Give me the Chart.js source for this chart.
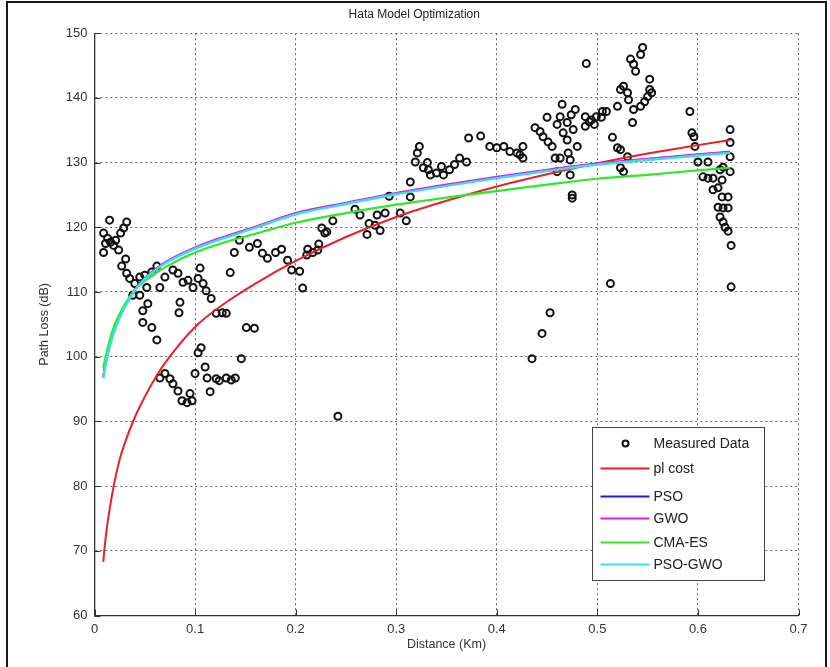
<!DOCTYPE html>
<html>
<head>
<meta charset="utf-8">
<title>Hata Model Optimization</title>
<script src="https://cdn.jsdelivr.net/npm/chart.js@4.4.1/dist/chart.umd.min.js"></script>
<style>
  body { margin: 0; background: #fff; }
  #wrap { position: relative; width: 830px; height: 667px; overflow: hidden; background: #fff; }
  #frame { position: absolute; left: 6px; top: 1px; width: 817px; height: 700px; border: 2px solid #1a1a1a; border-bottom: none; pointer-events: none; }
</style>
</head>
<body>
<div id="wrap">
  <canvas id="myChart" width="830" height="667"></canvas>
  <div id="frame"></div>
</div>
<script>
//measured drive test points, distance in km
const measuredDist = [
  0.015, 0.032, 0.009, 0.013, 0.016, 0.011, 0.019, 0.021, 0.026, 0.029,
  0.009, 0.024, 0.031, 0.027, 0.032, 0.035, 0.040, 0.045, 0.050, 0.057,
  0.062, 0.038, 0.045, 0.052, 0.065, 0.070, 0.078, 0.083, 0.048, 0.053,
  0.048, 0.057, 0.062, 0.085, 0.084, 0.088, 0.093, 0.098, 0.103, 0.105,
  0.108, 0.111, 0.116, 0.121, 0.127, 0.131, 0.135, 0.139, 0.144, 0.154,
  0.162, 0.167, 0.172, 0.180, 0.151, 0.159, 0.146, 0.103, 0.106, 0.110,
  0.100, 0.112, 0.115, 0.121, 0.124, 0.131, 0.136, 0.140, 0.065, 0.070,
  0.075, 0.078, 0.083, 0.087, 0.092, 0.095, 0.097,
  0.186, 0.192, 0.196, 0.204, 0.207, 0.211, 0.212, 0.217, 0.222, 0.223,
  0.226, 0.229, 0.231, 0.237, 0.242, 0.259, 0.264, 0.271, 0.273, 0.279,
  0.284, 0.281, 0.289, 0.304, 0.310, 0.314, 0.314, 0.293,
  0.319, 0.321, 0.323, 0.331, 0.327, 0.332, 0.334, 0.340, 0.345, 0.347,
  0.353, 0.358, 0.363, 0.370, 0.372, 0.384, 0.393, 0.400, 0.407, 0.413,
  0.420, 0.423, 0.426, 0.426, 0.438, 0.443, 0.446, 0.450, 0.451, 0.455,
  0.458, 0.460, 0.463, 0.465, 0.466, 0.470, 0.470, 0.471, 0.473, 0.474,
  0.476, 0.478, 0.480, 0.463, 0.460, 0.473, 0.475, 0.475, 0.488, 0.488,
  0.494, 0.499, 0.504, 0.505, 0.509, 0.489, 0.492, 0.497, 0.515, 0.520,
  0.523, 0.530, 0.523, 0.526, 0.520, 0.523, 0.526, 0.530, 0.531, 0.535,
  0.536, 0.533, 0.536, 0.538, 0.543, 0.545, 0.543, 0.547, 0.550, 0.552,
  0.552, 0.554, 0.513, 0.453, 0.445, 0.435,
  0.592, 0.594, 0.596, 0.597, 0.632, 0.632, 0.632, 0.600, 0.610, 0.605,
  0.610, 0.615, 0.622, 0.625, 0.632, 0.624, 0.615, 0.620, 0.624, 0.630,
  0.620, 0.625, 0.630, 0.622, 0.625, 0.627, 0.630, 0.633, 0.633
];

//measured path loss in dB, same order as measuredDist
const measuredLoss = [
  121.1, 120.8, 119.1, 118.3, 117.7, 117.5, 117.2, 118.0, 119.1, 119.9,
  116.1, 116.5, 115.1, 114.0, 112.9, 112.1, 111.3, 112.3, 112.6, 113.1,
  114.0, 109.5, 109.5, 110.7, 110.7, 112.3, 113.4, 112.9, 107.1, 108.2,
  105.3, 104.5, 102.6, 108.4, 106.8, 111.5, 111.8, 110.7, 112.1, 113.7,
  111.3, 110.2, 109.0, 106.7, 106.8, 106.7, 113.0, 116.1, 118.0, 116.9,
  117.5, 116.0, 115.2, 116.1, 104.5, 104.4, 99.7, 100.6, 101.4, 98.4,
  97.4, 96.7, 94.6, 96.6, 96.3, 96.7, 96.4, 96.7, 96.7, 97.4,
  96.6, 95.8, 94.7, 93.2, 92.9, 94.3, 93.2,
  116.6, 114.9, 113.4, 113.2, 110.6, 115.7, 116.6, 116.1, 116.5, 117.4,
  119.9, 119.1, 119.3, 121.0, 90.8, 122.8, 121.9, 118.9, 120.6, 120.3,
  119.5, 121.9, 122.2, 122.2, 121.0, 127.0, 124.7, 124.8,
  130.1, 131.5, 132.5, 130.0, 129.2, 128.9, 128.1, 128.4, 129.4, 128.1,
  128.9, 129.7, 130.7, 130.1, 133.8, 134.1, 132.5, 132.3, 132.5, 131.7,
  131.5, 131.2, 132.5, 130.7, 135.4, 134.8, 134.0, 137.0, 133.2, 132.5,
  130.7, 135.9, 137.1, 139.0, 134.6, 136.2, 133.5, 131.5, 130.4, 137.4,
  135.1, 138.2, 132.5, 130.7, 128.6, 128.1, 125.0, 124.5, 137.1, 135.6,
  136.6, 137.1, 137.0, 137.9, 137.9, 145.3, 136.3, 135.9, 133.9, 132.3,
  132.0, 130.9, 129.2, 128.6, 138.7, 141.3, 141.8, 140.8, 139.7, 136.2,
  138.2, 146.0, 145.2, 144.1, 146.7, 147.8, 138.7, 139.4, 140.2, 141.3,
  142.9, 140.8, 111.3, 106.8, 103.6, 99.7,
  137.9, 134.6, 134.0, 132.5, 135.1, 133.1, 130.9, 130.1, 130.1, 127.8,
  127.6, 127.6, 128.9, 129.3, 128.6, 127.3, 125.8, 126.1, 124.7, 124.7,
  123.1, 123.0, 123.0, 121.6, 120.8, 120.0, 119.4, 117.2, 110.8
];

//distances where the model curves were read
const curveDist = [0.0087, 0.01, 0.012, 0.015, 0.02, 0.025, 0.03, 0.04, 0.05, 0.06, 0.07, 0.1, 0.13, 0.16, 0.2, 0.25, 0.3, 0.35, 0.4, 0.45, 0.5, 0.55, 0.6, 0.632];

//model curves in dB
const plCost = [68.3, 70.4, 73.2, 76.4, 80.7, 84.1, 86.6, 90.6, 93.8, 96.6, 99.0, 104.6, 108.3, 111.3, 114.8, 118.5, 121.6, 124.1, 126.3, 128.2, 129.9, 131.4, 132.7, 133.5];
const pso    = [96.8, 98.1, 99.6, 101.6, 104.2, 106.1, 107.7, 110.3, 112.1, 113.4, 114.5, 116.8, 118.5, 120.0, 122.1, 123.7, 125.2, 126.5, 127.7, 128.8, 129.8, 130.5, 131.2, 131.6];
const gwo    = [96.9, 98.2, 99.7, 101.7, 104.3, 106.2, 107.8, 110.4, 112.2, 113.5, 114.6, 116.9, 118.6, 120.1, 122.2, 123.8, 125.3, 126.6, 127.8, 128.9, 129.9, 130.6, 131.3, 131.7];
const cmaEs  = [98.3, 99.3, 100.6, 102.5, 104.9, 106.6, 108.0, 110.3, 111.7, 112.8, 113.8, 116.1, 117.7, 119.0, 120.7, 122.2, 123.5, 124.6, 125.6, 126.6, 127.5, 128.1, 128.8, 129.2];
const psoGwo = [96.7, 98.0, 99.5, 101.5, 104.1, 106.0, 107.6, 110.2, 112.0, 113.3, 114.4, 116.7, 118.4, 119.9, 122.0, 123.6, 125.1, 126.4, 127.6, 128.7, 129.7, 130.4, 131.1, 131.5];

//tick labels
const xTickLabels = ['0', '0.1', '0.2', '0.3', '0.4', '0.5', '0.6', '0.7'];
const yTickLabels = ['60', '70', '80', '90', '100', '110', '120', '130', '140', '150'];

const FONT = "'Liberation Sans', Arial, sans-serif";
const TEXT = '#333';

//turn two arrays into {x, y} points
function toPoints(xs, ys) {
  return xs.map((x, i) => ({x: x, y: ys[i]}));
}

function curve(label, values, color, width, order) {
  return {
    label: label,
    data: toPoints(curveDist, values),
    showLine: true,
    borderColor: color,
    backgroundColor: color,
    borderWidth: width,
    pointRadius: 0,
    cubicInterpolationMode: 'monotone',
    order: order
  };
}

const data = {
  datasets: [
    {
      label: 'Measured Data',
      data: toPoints(measuredDist, measuredLoss),
      showLine: false,
      pointStyle: 'circle',
      pointRadius: 3.5,
      pointBorderWidth: 2,
      borderColor: '#111',
      backgroundColor: 'rgba(0,0,0,0)',
      order: 6
    },
    curve('pl cost', plCost, '#e8212b', 2, 5),
    curve('PSO', pso, '#1d1dd6', 2, 4),
    curve('GWO', gwo, '#e01de0', 2, 3),
    curve('CMA-ES', cmaEs, '#2ee82e', 2.2, 2),
    curve('PSO-GWO', psoGwo, '#33e3e3', 2.4, 1)
  ]
};

//matlab style tick marks pointing into the axes
const insideTicks = {
  id: 'insideTicks',
  afterDatasetsDraw(chart) {
    const {ctx, chartArea: a, scales: {x, y}} = chart;
    ctx.save();
    ctx.strokeStyle = '#333';
    ctx.lineWidth = 1;
    ctx.beginPath();
    x.ticks.forEach(t => {
      const px = Math.round(x.getPixelForValue(t.value)) + 0.5;
      ctx.moveTo(px, a.bottom);
      ctx.lineTo(px, a.bottom - 6);
    });
    y.ticks.forEach(t => {
      const py = Math.round(y.getPixelForValue(t.value)) + 0.5;
      ctx.moveTo(a.left, py);
      ctx.lineTo(a.left + 6, py);
    });
    ctx.stroke();
    ctx.restore();
  }
};

//legend box in the lower right corner of the plot
const boxLegend = {
  id: 'boxLegend',
  afterDraw(chart) {
    const {ctx, chartArea: a} = chart;
    const w = 172, h = 153;
    const left = Math.round(a.right - 34.5 - w) + 0.5;
    const top = Math.round(a.bottom - 35.5 - h) + 0.5;
    const rows = [16, 41, 69, 91, 115, 137];
    ctx.save();
    ctx.fillStyle = '#fff';
    ctx.fillRect(left, top, w, h);
    ctx.strokeStyle = '#444';
    ctx.lineWidth = 1;
    ctx.strokeRect(left, top, w, h);
    ctx.font = '14px ' + FONT;
    ctx.textBaseline = 'middle';
    ctx.textAlign = 'left';
    chart.data.datasets.forEach((ds, i) => {
      const yy = top + rows[i];
      ctx.strokeStyle = ds.borderColor;
      ctx.lineWidth = 2;
      ctx.beginPath();
      if (ds.showLine) {
        ctx.moveTo(left + 8, yy);
        ctx.lineTo(left + 57, yy);
      } else {
        ctx.arc(left + 33, yy, 3, 0, Math.PI * 2);
      }
      ctx.stroke();
      ctx.fillStyle = '#222';
      ctx.fillText(ds.label, left + 61, yy + 1);
    });
    ctx.restore();
  }
};

const config = {
  type: 'scatter',
  data: data,
  options: {
    responsive: false,
    animation: false,
    devicePixelRatio: 1,
    layout: {padding: {left: 30, right: 31.5, top: 0, bottom: 0}},
    plugins: {
      legend: {display: false},
      tooltip: {enabled: false},
      title: {
        display: true,
        text: 'Hata Model Optimization',
        color: '#222',
        font: {family: FONT, size: 12, weight: 'normal'},
        padding: {top: 7, bottom: 11.8}
      }
    },
    scales: {
      x: {
        type: 'linear',
        min: 0,
        max: 0.7,
        ticks: {
          stepSize: 0.1,
          autoSkip: false,
          maxRotation: 0,
          padding: 6,
          color: TEXT,
          font: {family: FONT, size: 13},
          callback: (v, i) => xTickLabels[i]
        },
        grid: {color: '#666', lineWidth: 1, drawTicks: false},
        border: {display: true, color: '#333', width: 1.3, dash: [2, 3]},
        title: {
          display: true,
          text: 'Distance (Km)',
          color: TEXT,
          font: {family: FONT, size: 12.5},
          padding: {top: 0, bottom: 14.5}
        },
        afterFit(scale) { scale.height = 51.5; }
      },
      y: {
        type: 'linear',
        min: 60,
        max: 150,
        ticks: {
          stepSize: 10,
          padding: 7,
          color: TEXT,
          font: {family: FONT, size: 13},
          callback: (v, i) => yTickLabels[i]
        },
        grid: {color: '#666', lineWidth: 1, drawTicks: false},
        border: {display: true, color: '#333', width: 1.3, dash: [2, 3]},
        title: {
          display: true,
          text: 'Path Loss (dB)',
          color: TEXT,
          font: {family: FONT, size: 12.5},
          padding: {top: 7.5, bottom: 0}
        },
        afterFit(scale) { scale.width = 64.5; }
      }
    }
  },
  plugins: [insideTicks, boxLegend]
};

const myChart = new Chart(document.getElementById('myChart'), config);
</script>
</body>
</html>
